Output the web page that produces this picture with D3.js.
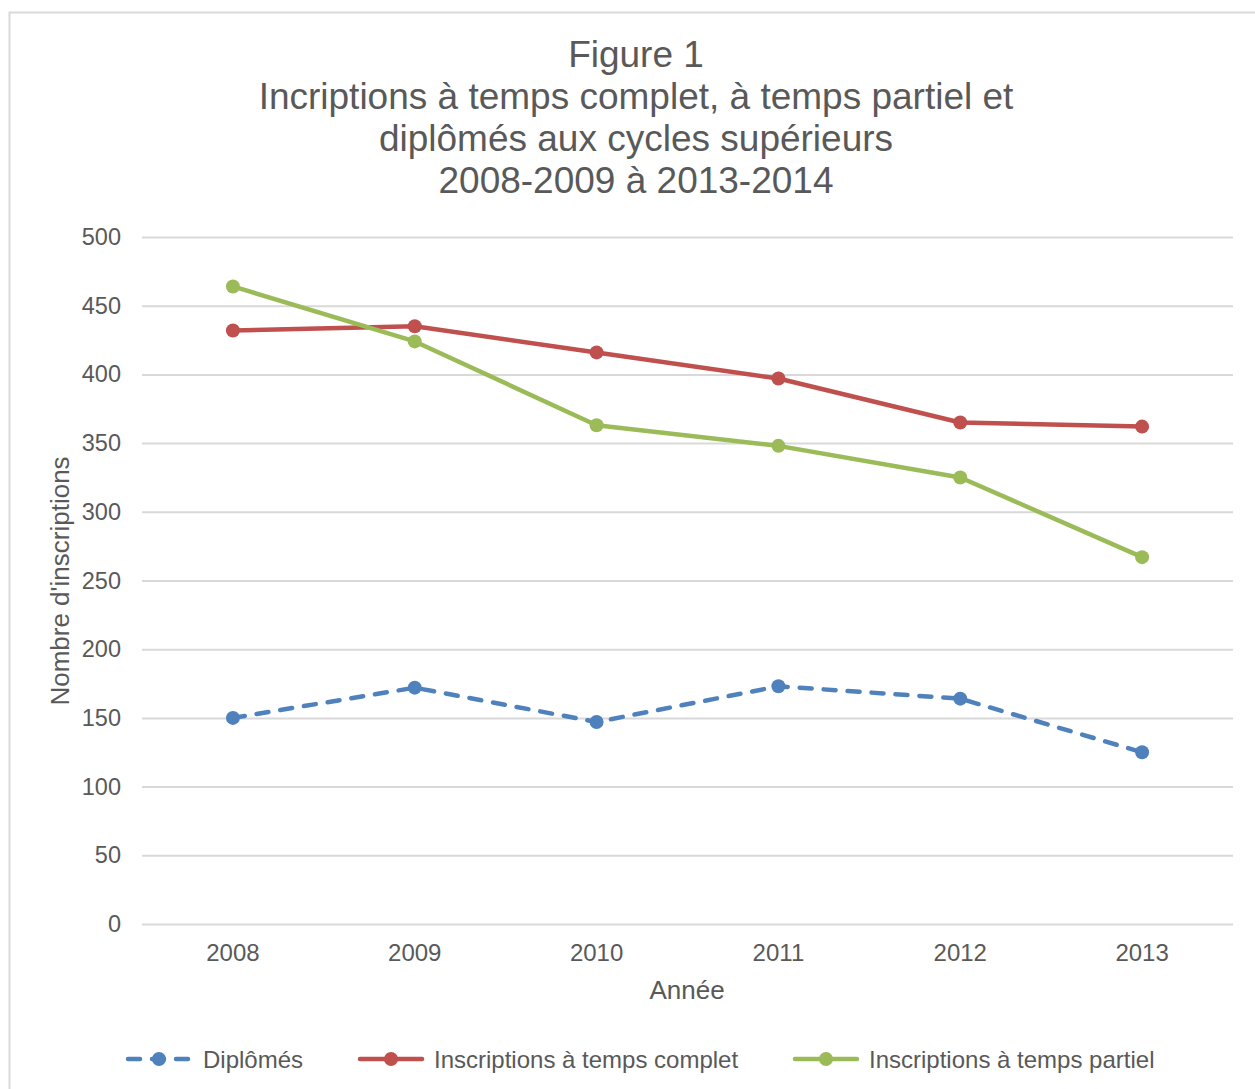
<!DOCTYPE html>
<html><head><meta charset="utf-8">
<script src="https://cdn.jsdelivr.net/npm/d3@7"></script>
<style>body{margin:0;background:#fff}svg{display:block;font-family:"Liberation Sans",Arial,sans-serif}</style>
</head><body><svg id="c" width="1255" height="1089"></svg>
<script>
const years = ["2008","2009","2010","2011","2012","2013"];
const diplomes = [150,172,147,173,164,125];
const complet = [432,435,416,397,365,362];
const partiel = [464,424,363,348,325,267];
const yTicks = [0,50,100,150,200,250,300,350,400,450,500];
const titleLines = ["Figure 1","Incriptions à temps complet, à temps partiel et","diplômés aux cycles supérieurs","2008-2009 à 2013-2014"];
const seriesNames = ["Diplômés","Inscriptions à temps complet","Inscriptions à temps partiel"];
const colors = ["#4F81BD","#C0504D","#9BBB59"];

const svg = d3.select("#c");
const txt = "#595959";
const ff = "Liberation Sans, Arial, sans-serif";
svg.append("rect").attr("x",9.5).attr("y",12.5).attr("width",1260).attr("height",1100)
  .attr("fill","#fff").attr("stroke","#d9d9d9").attr("stroke-width",2);

const L=142,R=1233,T=237,B=924;
const x = d3.scaleBand().domain(years).range([L,R]);
const y = d3.scaleLinear().domain([0,500]).range([B,T]);

svg.append("g").selectAll("text").data(titleLines).join("text")
  .attr("x",636).attr("y",(d,i)=>67+i*42).attr("text-anchor","middle")
  .attr("font-size",37).attr("fill",txt).text(d=>d);

const gy = svg.append("g").attr("transform",`translate(${L},0)`)
  .call(d3.axisLeft(y).tickValues(yTicks).tickSize(-(R-L)).tickPadding(21));
gy.select(".domain").remove();
gy.selectAll("line").attr("stroke","#d9d9d9").attr("stroke-width",2);
gy.selectAll("text").attr("font-size",23.5).attr("fill",txt).attr("font-family",ff);

const gx = svg.append("g").attr("transform",`translate(0,${B})`)
  .call(d3.axisBottom(x).tickSize(0).tickPadding(20));
gx.select(".domain").remove();
gx.selectAll("text").attr("font-size",24).attr("fill",txt).attr("font-family",ff);

svg.append("text").attr("x",687).attr("y",999).attr("text-anchor","middle")
  .attr("font-size",26).attr("fill",txt).text("Année");
svg.append("text").attr("transform","translate(69,581) rotate(-90)").attr("text-anchor","middle")
  .attr("font-size",26).attr("fill",txt).text("Nombre d'inscriptions");

const data=[diplomes,complet,partiel];
const line=d3.line().x((d,i)=>x(years[i])+x.bandwidth()/2).y(d=>y(d));
data.forEach((s,k)=>{
  svg.append("path").datum(s).attr("d",line).attr("fill","none").attr("stroke",colors[k])
    .attr("stroke-width",4.5).attr("stroke-linecap","round").attr("stroke-linejoin","round")
    .attr("stroke-dasharray",k===0?"12,12":null);
  svg.append("g").selectAll("circle").data(s).join("circle")
    .attr("cx",(d,i)=>x(years[i])+x.bandwidth()/2).attr("cy",d=>y(d)).attr("r",7).attr("fill",colors[k]);
});

// legend
const leg=[{x:128,tx:203},{x:360,tx:434},{x:795,tx:869}];
leg.forEach((p,k)=>{
  const g=svg.append("g");
  g.append("line").attr("x1",p.x).attr("x2",p.x+62).attr("y1",1059).attr("y2",1059)
    .attr("stroke",colors[k]).attr("stroke-width",4.5).attr("stroke-linecap","round")
    .attr("stroke-dasharray",k===0?"12,12":null);
  g.append("circle").attr("cx",p.x+31).attr("cy",1059).attr("r",7).attr("fill",colors[k]);
  g.append("text").attr("x",p.tx).attr("y",1068).attr("font-size",24).attr("fill",txt).text(seriesNames[k]);
});
</script></body></html>
